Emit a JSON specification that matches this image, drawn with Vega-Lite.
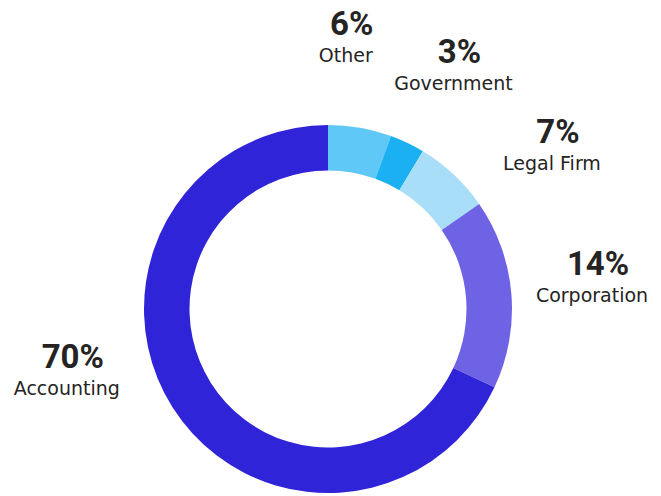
{
  "$schema": "https://vega.github.io/schema/vega-lite/v6.json",
  "autosize": "none",
  "width": 656,
  "height": 372,
  "padding": {"left": 0, "top": 123, "right": 5, "bottom": 1},
  "background": "white",
  "config": {"view": {"stroke": null}},
  "data": {
    "values": [
      {"category": "Other", "value": 5.56, "pct": 0.06, "rank": 1},
      {"category": "Government", "value": 3.06, "pct": 0.03, "rank": 2},
      {"category": "Legal Firm", "value": 6.72, "pct": 0.07, "rank": 3},
      {"category": "Corporation", "value": 16.66, "pct": 0.14, "rank": 4},
      {"category": "Accounting", "value": 68.0, "pct": 0.70, "rank": 5}
    ]
  },
  "encoding": {
    "theta": {"field": "value", "type": "quantitative", "stack": true},
    "order": {"field": "rank", "type": "quantitative"}
  },
  "layer": [
    {
      "mark": {"type": "arc", "outerRadius": 184, "innerRadius": 138.5},
      "encoding": {
        "color": {
          "field": "category",
          "type": "nominal",
          "scale": {
            "domain": ["Other", "Government", "Legal Firm", "Corporation", "Accounting"],
            "range": ["#5FC8F7", "#1AB0F2", "#A8DEF8", "#6E63E5", "#3024D8"]
          },
          "legend": null
        }
      }
    },
    {
      "mark": {
        "type": "text",
        "radius": 275,
        "font": "Roboto",
        "fontWeight": "bold",
        "fontSize": 33,
        "color": "#252423",
        "align": "center",
        "baseline": "alphabetic",
        "dx": {"expr": "(datum.category === 'Other' ? -30 : datum.category === 'Government' ? 7 : datum.category === 'Legal Firm' ? 36 : datum.category === 'Corporation' ? -10 : -29) + 6"},
        "dy": {"expr": "(datum.category === 'Other' ? 24 : datum.category === 'Government' ? 29 : datum.category === 'Legal Firm' ? 62 : datum.category === 'Corporation' ? 16 : -61) - 27"}
      },
      "encoding": {
        "text": {"field": "pct", "type": "quantitative", "format": ".0%"}
      }
    },
    {
      "mark": {
        "type": "text",
        "radius": 275,
        "font": "DejaVu Sans",
        "fontSize": 19,
        "color": "#252423",
        "align": "center",
        "baseline": "alphabetic",
        "dx": {"expr": "datum.category === 'Other' ? -30 : datum.category === 'Government' ? 7 : datum.category === 'Legal Firm' ? 36 : datum.category === 'Corporation' ? -10 : -29"},
        "dy": {"expr": "datum.category === 'Other' ? 24 : datum.category === 'Government' ? 29 : datum.category === 'Legal Firm' ? 62 : datum.category === 'Corporation' ? 16 : -61"}
      },
      "encoding": {
        "text": {"field": "category", "type": "nominal"}
      }
    }
  ]
}
